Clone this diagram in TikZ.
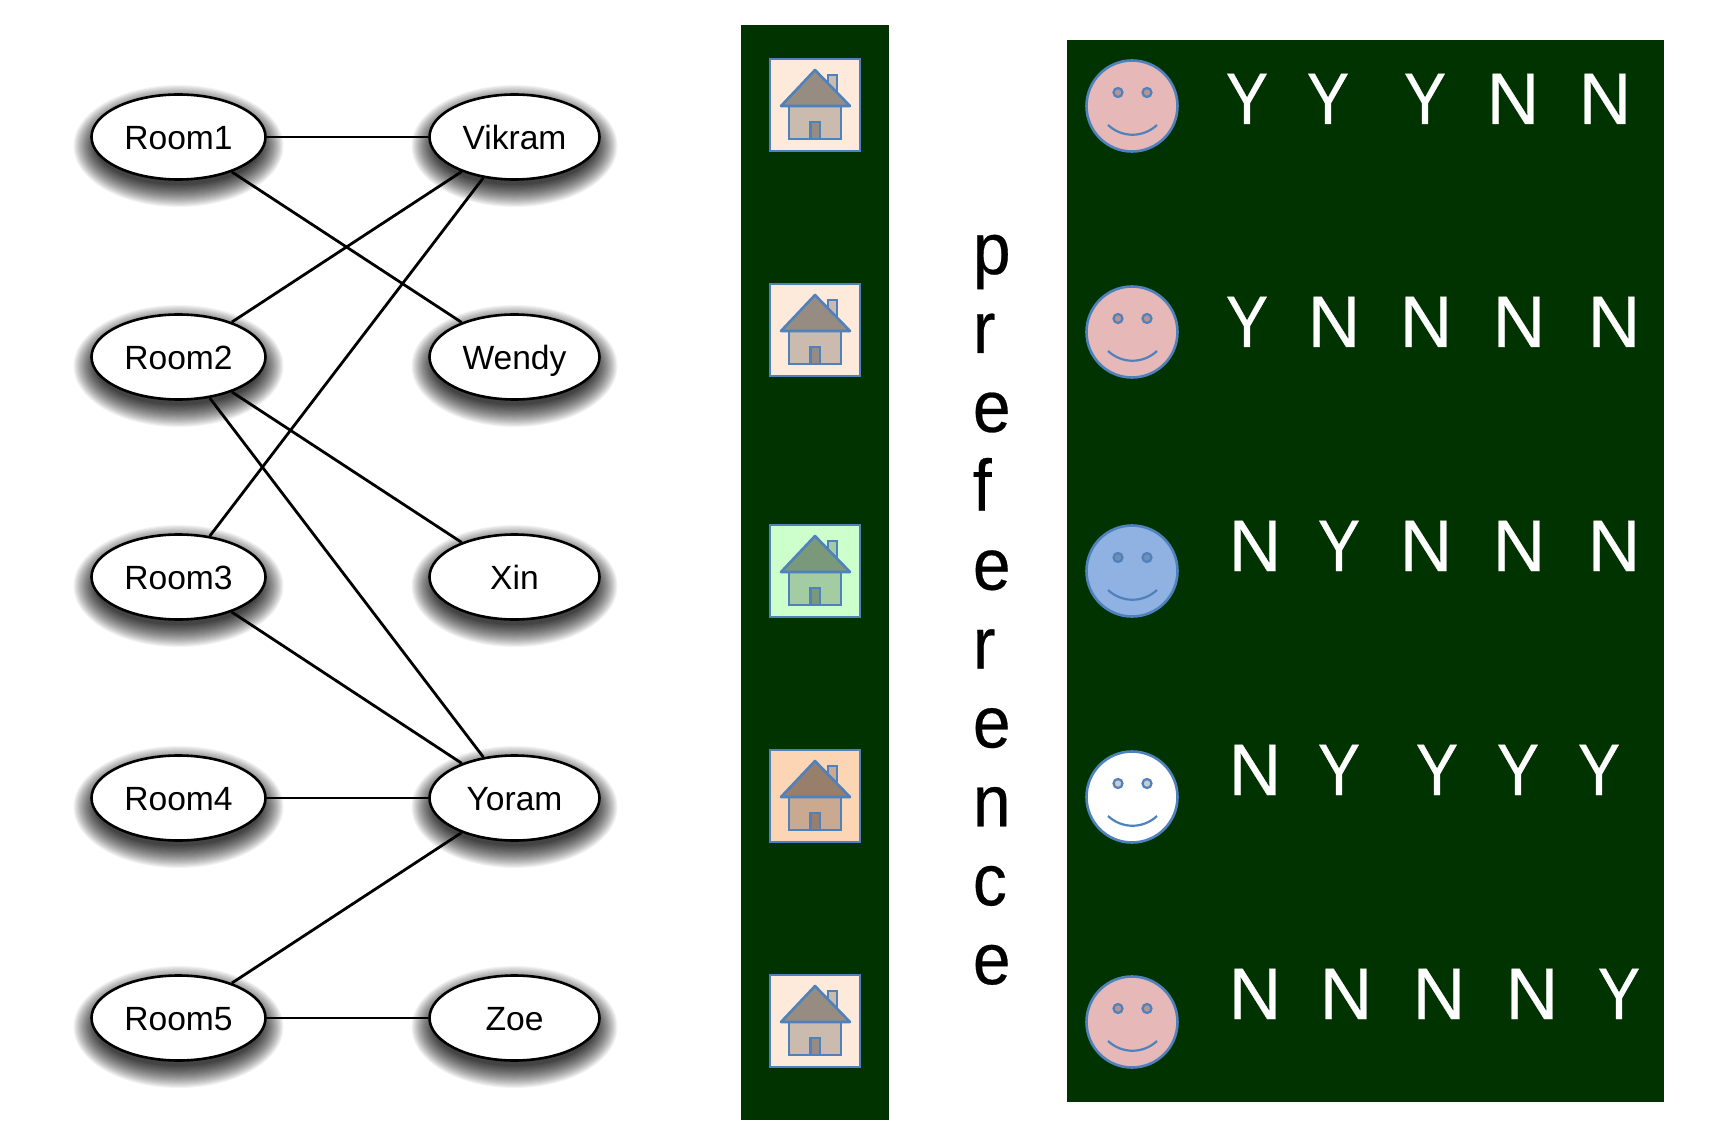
\documentclass[tikz,border=0pt]{standalone}
\usepackage{fontspec}
\setmainfont{Liberation Sans}
\newfontfamily\bigfont[FakeBold=0.35]{Liberation Sans}
\usetikzlibrary{shapes.geometric}

\definecolor{panelgreen}{HTML}{003300}
\definecolor{iconblue}{HTML}{4F81BD}
\definecolor{housepeach}{HTML}{FDEADA}
\definecolor{housegreen}{HTML}{CCFFCC}
\definecolor{houseorange}{HTML}{FCD5B5}
\definecolor{facepink}{HTML}{E6B9B8}
\definecolor{faceblue}{HTML}{8FB2E2}

\tikzset{
  person/.style={ellipse, draw, line width=1.3pt, fill=white, inner sep=0pt,
    minimum height=42.5pt, text height=12.5pt, text depth=0pt,
    font=\fontsize{16.8}{19}\selectfont},
  edge/.style={line width=1.4pt, black},
  ansN/.style={anchor=base, inner sep=0pt, text=white, font=\bigfont\fontsize{36.5}{40}\selectfont},
  ansY/.style={ansN, xscale=.87, transform shape},
  letter/.style={anchor=base west, inner sep=0pt, xscale=.93, transform shape,
    font=\bigfont\fontsize{36.5}{40}\selectfont},
  iconline/.style={draw=iconblue, line width=1.3pt},
  pics/housepic/.style={code={
    \fill[#1, iconline] (-45,-46) rectangle (45,46);
    \fill[black, fill opacity=.2, iconline, line width=1.1pt] (13,-30) rectangle (22,-8);
    \fill[#1] (-26,1) rectangle (26,34);
    \fill[black, fill opacity=.2, iconline, line width=1.1pt] (-26,1) rectangle (26,34);
    \fill[#1] (0,-35) -- (-34,1) -- (35,1) -- cycle;
    \fill[black, fill opacity=.4, iconline, line join=round] (0,-35) -- (-34,1) -- (35,1) -- cycle;
    \fill[#1] (-4.5,17) rectangle (5,34);
    \fill[black, fill opacity=.4, iconline, line width=1.1pt] (-4.5,17) rectangle (5,34);
  }},
  pics/facepic/.style={code={
    \fill[#1, iconline] (0,0) circle (45.5);
    \fill[black, fill opacity=.2, iconline, line width=1.1pt] (-14,-13.5) circle (4.5);
    \fill[black, fill opacity=.2, iconline, line width=1.1pt] (15,-13.5) circle (4.5);
    \draw[iconline, line width=1.1pt] (-24,19) .. controls (-10,32) and (11,32) .. (25,19);
  }}
}

\begin{document}
\begin{tikzpicture}[x=0.5pt, y=-0.5pt]
  \useasboundingbox (0,0) rectangle (1720,1134);

  % Blurred shadows and vertices
  \foreach \name/\px/\py/\rw in {
      Room1/178.5/137/87, Room2/178.5/357/87, Room3/178.5/577/87,
      Room4/178.5/798/87, Room5/178.5/1018/87,
      Vikram/514.5/137/85, Wendy/514.5/357/85, Xin/514.5/577/85,
      Yoram/514.5/798/85, Zoe/514.5/1018/85} {
    \foreach \i in {0,...,24}
      \fill[black, opacity=.05] (\px,\py+9) ellipse ({\rw-4+22*pow(\i/24,1.2)} and {39+22*pow(\i/24,1.2)});
    \node[person, minimum width=\rw pt] (\name) at (\px,\py) {\name};
  }

  % Undirected edges
  \draw[edge] (Room1) -- (Vikram);
  \draw[edge] (Room1) -- (Wendy);
  \draw[edge] (Room2) -- (Vikram);
  \draw[edge] (Room2) -- (Xin);
  \draw[edge] (Room2) -- (Yoram);
  \draw[edge] (Room3) -- (Vikram);
  \draw[edge] (Room3) -- (Yoram);
  \draw[edge] (Room4) -- (Yoram);
  \draw[edge] (Room5) -- (Yoram);
  \draw[edge] (Room5) -- (Zoe);

  % Dark panels
  \fill[panelgreen] (741,25) rectangle (888.5,1120);
  \fill[panelgreen] (1067,40) rectangle (1664,1102);

  % Houses
  \foreach \hy/\hcol in {105/housepeach, 330/housepeach, 571/housegreen,
      796/houseorange, 1021/housepeach}
    \pic at (815,\hy) {housepic=\hcol};

  % Faces
  \foreach \fy/\fcol in {106/facepink, 332/facepink, 571/faceblue,
      797/white, 1022/facepink}
    \pic at (1132,\fy) {facepic=\fcol};

  % Vertical word
  \foreach \ch [count=\i from 0] in {p,r,e,f,e,r,e,n,c,e}
    \node[letter] (pref\i) at (972.5,274+78.9*\i) {\ch};

  % Answer rows
  \foreach \ay/\row [count=\j] in {
      124/{1247/Y,1328/Y,1425/Y,1513/N,1605/N},
      347/{1247/Y,1334/N,1426/N,1519/N,1614/N},
      571/{1255/N,1339/Y,1426/N,1519/N,1614/N},
      795/{1255/N,1339/Y,1437/Y,1518/Y,1599/Y},
      1019/{1255/N,1346/N,1439/N,1532/N,1619/Y}}
    \foreach \ax/\ans [count=\k] in \row
      \node[ans\ans] (ans\j\k) at (\ax,\ay) {\ans};
\end{tikzpicture}
\end{document}
